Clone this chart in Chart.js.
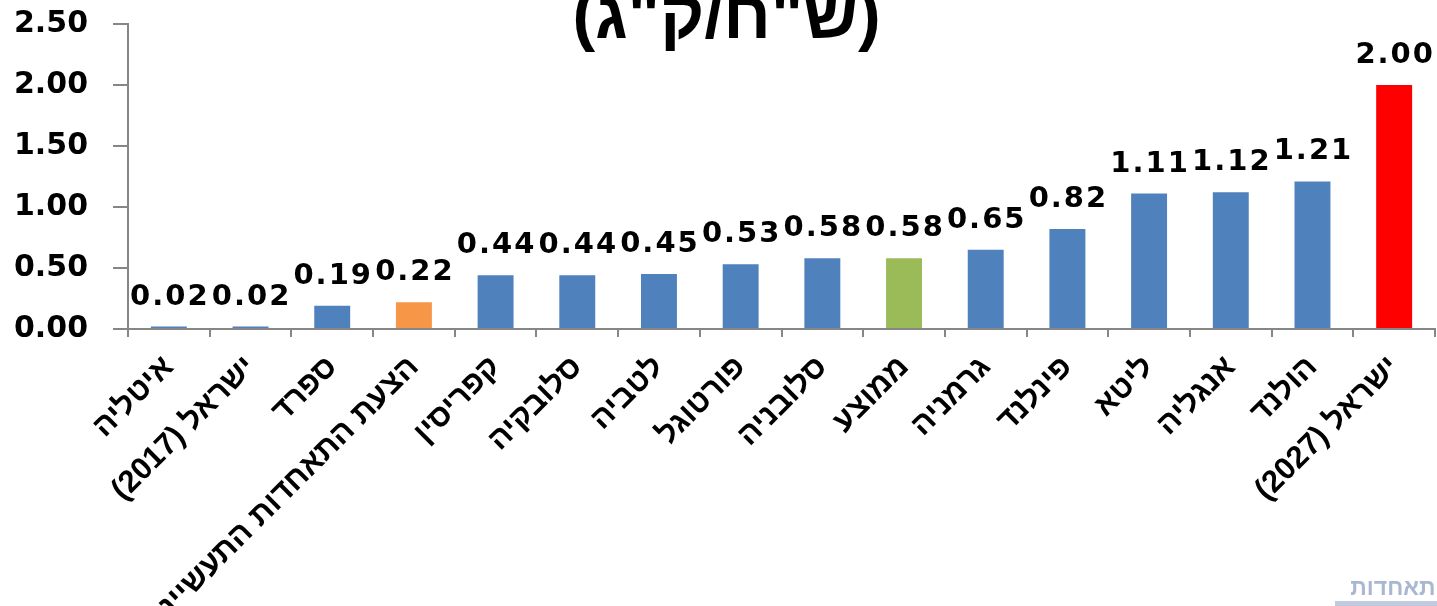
<!DOCTYPE html>
<html lang="he">
<head>
<meta charset="utf-8">
<script src="https://cdn.jsdelivr.net/npm/chart.js@4/dist/chart.umd.min.js"></script>
<style>
    html, body { margin: 0; padding: 0; background: #fff; }
    #wrap { width: 1437px; height: 606px; position: relative; }
    canvas { direction: rtl; }
</style>
</head>
<body>
<div id="wrap"><canvas id="priceChart"></canvas></div>
<script>
// --- Data ---
const categories = ['איטליה', 'ישראל (2017)', 'ספרד', 'הצעת התאחדות התעשיינים', 'קפריסין', 'סלובקיה', 'לטביה', 'פורטוגל',
    'סלובניה', 'ממוצע', 'גרמניה', 'פינלנד', 'ליטא', 'אנגליה', 'הולנד', 'ישראל (2027)'];
const values = [0.02, 0.02, 0.19, 0.22, 0.44, 0.44, 0.45, 0.53, 0.58, 0.58, 0.65, 0.82, 1.11, 1.12, 1.21, 2.00];
const yTicks = [0, 0.5, 1, 1.5, 2, 2.5];
const titleText = '(ש"ח/ק"ג)';
const logoText = 'התאחדות';

// Color palette
const COLORS = {
    blue: '#4f81bd',
    orange: '#f79646',
    green: '#9bbb59',
    red: '#ff0000',
    axis: '#868686',
    text: '#000000'
};

function barColor(label) {
    if (label.startsWith('הצעת')) return COLORS.orange;
    if (label === 'ממוצע') return COLORS.green;
    if (label === 'ישראל (2027)') return COLORS.red;
    return COLORS.blue;
}

// --- Value labels + title plugin ---
const valueLabels = {
    id: 'valueLabels',
    afterDatasetsDraw(chart) {
        const ctx = chart.ctx;
        const meta = chart.getDatasetMeta(0);
        ctx.save();
        ctx.direction = 'ltr';
        ctx.font = 'bold 29px "DejaVu Sans"';
        ctx.letterSpacing = '2px';
        ctx.fillStyle = COLORS.text;
        ctx.textAlign = 'center';
        ctx.textBaseline = 'alphabetic';
        meta.data.forEach((bar, i) => {
            ctx.fillText(values[i].toFixed(2), bar.x + 1, bar.y - 22);
        });
        ctx.restore();
    },
    afterDraw(chart) {
        const ctx = chart.ctx;
        ctx.save();
        ctx.direction = 'rtl';
        ctx.font = 'bold 68px "Liberation Sans"';
        ctx.fillStyle = COLORS.text;
        ctx.textAlign = 'center';
        ctx.textBaseline = 'alphabetic';
        ctx.fillText(titleText, chart.width / 2 + 8, 38);
        // faded logo text, bottom right (partly off the edge)
        ctx.font = 'bold 23px "Liberation Sans"';
        ctx.fillStyle = '#a9b7d3';
        ctx.textAlign = 'right';
        ctx.fillText(logoText, chart.width + 14, 595);
        ctx.fillStyle = '#c0cbe0';
        ctx.fillRect(chart.width - 102, 601, 102, 5);
        ctx.restore();
    }
};

new Chart(document.getElementById('priceChart'), {
    type: 'bar',
    data: {
        labels: categories,
        datasets: [{
            data: values,
            backgroundColor: categories.map(barColor),
            borderWidth: 0,
            categoryPercentage: 1,
            barPercentage: 0.44
        }]
    },
    options: {
        responsive: true,
        maintainAspectRatio: false,
        animation: false,
        layout: { padding: { top: 24, right: 2, left: 0, bottom: 0 } },
        plugins: {
            legend: { display: false },
            tooltip: { enabled: false }
        },
        scales: {
            x: {
                grid: { drawOnChartArea: false, color: COLORS.axis, lineWidth: 2, tickLength: 8, offset: true },
                border: { color: COLORS.axis, width: 2 },
                ticks: {
                    autoSkip: false,
                    maxRotation: 45,
                    minRotation: 45,
                    padding: 12,
                    color: COLORS.text,
                    font: { family: '"Liberation Sans"', size: 31, weight: 'bold' }
                },
                afterFit: s => { s.height = 277; s.paddingLeft = 0; s.paddingRight = 0; }
            },
            y: {
                min: 0,
                max: 2.5,
                afterBuildTicks: s => { s.ticks = yTicks.map(v => ({ value: v })); },
                grid: { drawOnChartArea: false, color: COLORS.axis, lineWidth: 2, tickLength: 15 },
                border: { color: COLORS.axis, width: 2 },
                ticks: {
                    padding: 25,
                    color: COLORS.text,
                    font: { family: '"DejaVu Sans"', size: 30, weight: 'bold' },
                    callback: v => Number(v).toFixed(2)
                },
                afterFit: s => { s.width = 128; s.paddingTop = 0; s.paddingBottom = 0; }
            }
        }
    },
    plugins: [valueLabels]
});
</script>
</body>
</html>
